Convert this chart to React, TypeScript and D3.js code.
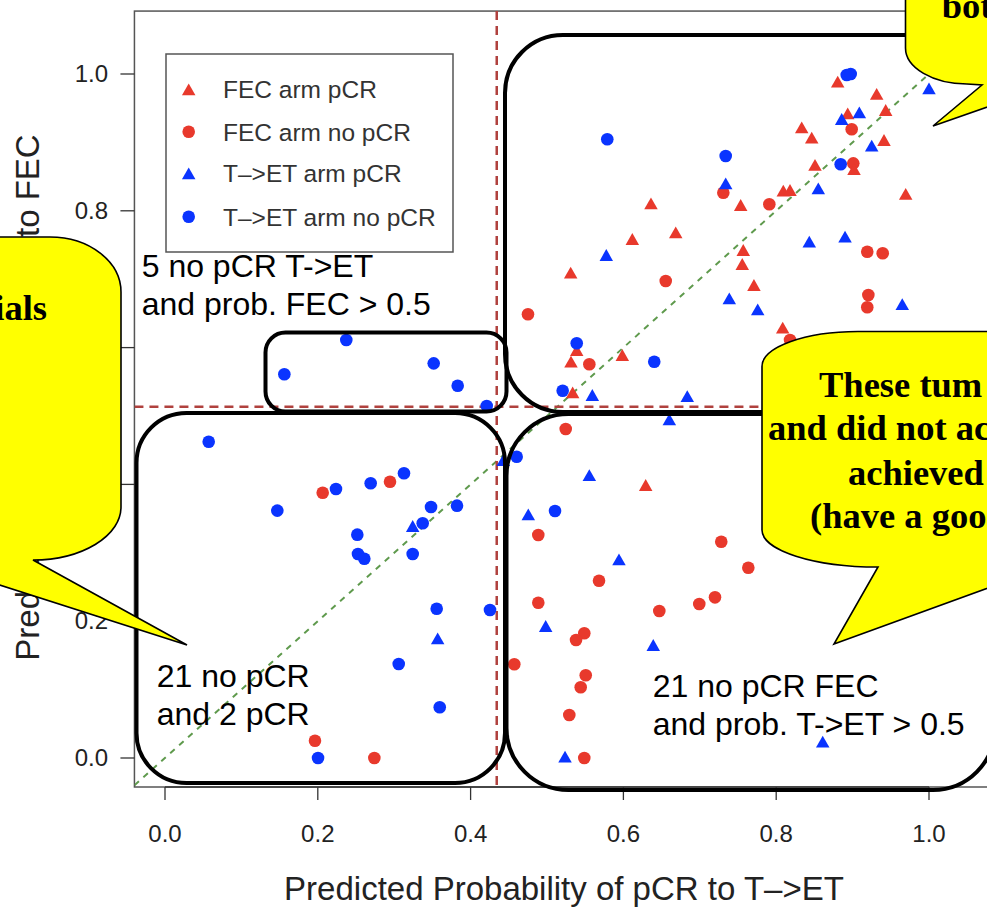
import React from "react";
import * as d3 from "d3";

// ---------- data (predicted probabilities) ----------
// [prob T->ET, prob FEC]
const fecArmPcr: [number, number][] = [
  [0.8805, 0.9888], [0.9315, 0.9708], [0.8936, 0.9425], [0.9433, 0.9474],
  [0.8334, 0.9221], [0.8465, 0.9069], [0.9411, 0.9035], [0.8508, 0.867],
  [0.9018, 0.8611], [0.8093, 0.8294], [0.8181, 0.8304], [0.9695, 0.8246],
  [0.7535, 0.8085], [0.6361, 0.811], [0.6685, 0.7686], [0.6117, 0.7588],
  [0.7569, 0.7427], [0.7556, 0.7222], [0.7709, 0.6915], [0.531, 0.7095],
  [0.8085, 0.6291], [0.5389, 0.5965], [0.5314, 0.5794], [0.5986, 0.5892],
  [0.5336, 0.5346], [0.6292, 0.3991],
];
const fecArmNoPcr: [number, number][] = [
  [0.8988, 0.9192], [0.9009, 0.8694], [0.7308, 0.8265], [0.791, 0.8095],
  [0.6554, 0.6974], [0.9192, 0.7402], [0.9394, 0.7379], [0.9206, 0.6769],
  [0.9192, 0.6589], [0.4751, 0.6487], [0.5554, 0.5756], [0.8181, 0.6111],
  [0.2064, 0.3879], [0.2945, 0.4039], [0.1963, 0.0253], [0.274, 0.0],
  [0.5245, 0.481], [0.4886, 0.326], [0.7281, 0.3162], [0.7635, 0.2782],
  [0.5681, 0.2592], [0.4886, 0.227], [0.647, 0.2149], [0.6993, 0.2251],
  [0.7199, 0.2349], [0.5488, 0.1823], [0.538, 0.1725], [0.4572, 0.137],
  [0.5507, 0.1209], [0.5441, 0.1034], [0.5292, 0.0629], [0.5488, 0.0],
];
const tetArmPcr: [number, number][] = [
  [1.0, 0.9791], [0.9088, 0.944], [0.8857, 0.9342], [0.925, 0.8952],
  [0.7339, 0.8402], [0.8551, 0.8329], [0.5776, 0.7354], [0.8433, 0.7548],
  [0.8901, 0.7621], [0.7386, 0.6721], [0.7758, 0.656], [0.965, 0.6637],
  [0.5593, 0.5307], [0.6836, 0.5292], [0.6601, 0.4952], [0.5554, 0.4137],
  [0.4755, 0.3563], [0.5942, 0.2905], [0.4983, 0.193], [0.6391, 0.1652],
  [0.5236, 0.0019], [0.8609, 0.0238], [0.3242, 0.3392], [0.3569, 0.175],
  [0.4428, 0.4357],
];
const tetArmNoPcr: [number, number][] = [
  [0.8923, 0.9985], [0.8975, 1.0], [0.5789, 0.9045], [0.7339, 0.8801],
  [0.8844, 0.868], [0.5389, 0.6063], [0.6404, 0.5794], [0.5205, 0.537],
  [0.1562, 0.561], [0.2373, 0.6111], [0.3517, 0.577], [0.3831, 0.5443],
  [0.4211, 0.5146], [0.0572, 0.4624], [0.2238, 0.3933], [0.2692, 0.4016],
  [0.3128, 0.4162], [0.147, 0.3616], [0.3482, 0.367], [0.3822, 0.3689],
  [0.3373, 0.3431], [0.2517, 0.3265], [0.2526, 0.2982], [0.2609, 0.2914],
  [0.3242, 0.2982], [0.3556, 0.2183], [0.4254, 0.2164], [0.3059, 0.1374],
  [0.3596, 0.0741], [0.2003, 0.0], [0.4603, 0.4405], [0.5105, 0.3611],
];

const xTicks = [0, 0.2, 0.4, 0.6, 0.8, 1.0];
const yTicks = [0, 0.2, 0.4, 0.6, 0.8, 1.0];
const thresholdTET = 0.4342;
const thresholdFEC = 0.5136;

const legendLabels = ["FEC arm pCR", "FEC arm no pCR", "T\u2013>ET arm pCR", "T\u2013>ET arm no pCR"];

const RED = "#e8392c";
const BLUE = "#0a34ff";

const W = 987;
const H = 907;
const SANS = "'Liberation Sans', Arial, Helvetica, sans-serif";
const SERIF = "'Liberation Serif', 'Times New Roman', serif";

const x = d3.scaleLinear().domain([0, 1]).range([165, 929]);
const y = d3.scaleLinear().domain([0, 1]).range([758, 74]);
const X_LIM: [number, number] = [-0.04, 1.1];
const Y_LIM: [number, number] = [-0.0424, 1.092];

function tri(cx: number, cy: number, w = 13.5, h = 11.8) {
  return `M${cx},${cy - h / 2}L${cx + w / 2},${cy + h / 2}L${cx - w / 2},${cy + h / 2}Z`;
}

function Points({ data, color, shape }: { data: [number, number][]; color: string; shape: "tri" | "circ" }) {
  return (
    <g>
      {data.map((d, i) =>
        shape === "tri" ? (
          <path key={i} d={tri(x(d[0]), y(d[1]))} fill={color} />
        ) : (
          <circle key={i} cx={x(d[0])} cy={y(d[1])} r={6.3} fill={color} />
        )
      )}
    </g>
  );
}

function roundRect(x0: number, y0: number, x1: number, y1: number, r: number) {
  return `M${x0 + r},${y0}H${x1 - r}A${r},${r} 0 0 1 ${x1},${y0 + r}V${y1 - r}A${r},${r} 0 0 1 ${x1 - r},${y1}H${x0 + r}A${r},${r} 0 0 1 ${x0},${y1 - r}V${y0 + r}A${r},${r} 0 0 1 ${x0 + r},${y0}Z`;
}

export default function App() {
  const pl = x(X_LIM[0]);
  const pr = x(X_LIM[1]);
  const pt = y(Y_LIM[1]);
  const pb = y(Y_LIM[0]);
  const legendSeries = [
    { color: RED, shape: "tri" },
    { color: RED, shape: "circ" },
    { color: BLUE, shape: "tri" },
    { color: BLUE, shape: "circ" },
  ];
  const legendRows = [89.3, 131.7, 173.3, 216.7];

  return (
    <svg
      width={W}
      height={H}
      viewBox={`0 0 ${W} ${H}`}
      style={{ position: "fixed", left: 0, top: 0, background: "#fff" }}
    >
      <defs>
        <clipPath id="plotclip">
          <rect x={pl} y={pt} width={pr - pl} height={pb - pt} />
        </clipPath>
      </defs>
      <rect x={0} y={0} width={W} height={H} fill="#fff" />

      {/* frame */}
      <rect x={pl} y={pt} width={pr - pl} height={pb - pt} fill="none" stroke="#555" strokeWidth={1.5} />

      {/* axes */}
      {xTicks.map((t) => (
        <g key={"xt" + t}>
          <line x1={x(t)} x2={x(t)} y1={pb} y2={pb + 13} stroke="#333" strokeWidth={1.3} />
          <text x={x(t)} y={842} textAnchor="middle" fontFamily={SANS} fontSize={24} fill="#222">
            {t.toFixed(1)}
          </text>
        </g>
      ))}
      <line x1={x(0)} x2={x(1)} y1={pb} y2={pb} stroke="#333" strokeWidth={1.3} />
      {yTicks.map((t) => (
        <g key={"yt" + t}>
          <line x1={pl - 14} x2={pl} y1={y(t)} y2={y(t)} stroke="#333" strokeWidth={1.3} />
          <text x={108} y={y(t) + 8} textAnchor="end" fontFamily={SANS} fontSize={24} fill="#222">
            {t.toFixed(1)}
          </text>
        </g>
      ))}
      <text x={564} y={900} textAnchor="middle" fontFamily={SANS} fontSize={33} fill="#222">
        Predicted Probability of pCR to T{"\u2013"}&gt;ET
      </text>
      <text
        transform={`translate(39,${397.5}) rotate(-90)`}
        textAnchor="middle"
        fontFamily={SANS}
        fontSize={33}
        fill="#222"
      >
        Predicted Probability of pCR to FEC
      </text>

      {/* reference lines */}
      <g clipPath="url(#plotclip)">
        <line
          x1={x(X_LIM[0])}
          y1={y(X_LIM[0])}
          x2={x(X_LIM[1])}
          y2={y(X_LIM[1])}
          stroke="#5f9a4d"
          strokeWidth={2}
          strokeDasharray="6,6"
        />
        <line
          x1={x(thresholdTET)}
          x2={x(thresholdTET)}
          y1={pt}
          y2={pb}
          stroke="#b0413e"
          strokeWidth={2.5}
          strokeDasharray="9,6"
        />
        <line
          x1={pl}
          x2={pr}
          y1={y(thresholdFEC)}
          y2={y(thresholdFEC)}
          stroke="#b0413e"
          strokeWidth={2.5}
          strokeDasharray="9,6"
        />
      </g>

      {/* points */}
      <Points data={fecArmNoPcr} color={RED} shape="circ" />
      <Points data={fecArmPcr} color={RED} shape="tri" />
      <Points data={tetArmPcr} color={BLUE} shape="tri" />
      <Points data={tetArmNoPcr} color={BLUE} shape="circ" />

      {/* legend */}
      <rect x={166} y={54} width={287} height={198} fill="#fff" stroke="#555" strokeWidth={1.5} />
      {legendLabels.map((lab, i) => (
        <g key={lab}>
          {legendSeries[i].shape === "tri" ? (
            <path d={tri(188.7, legendRows[i])} fill={legendSeries[i].color} />
          ) : (
            <circle cx={188.7} cy={legendRows[i]} r={6.3} fill={legendSeries[i].color} />
          )}
          <text x={223} y={legendRows[i] + 8.8} fontFamily={SANS} fontSize={24.5} fill="#333">
            {lab}
          </text>
        </g>
      ))}

      {/* annotations */}
      <g fontFamily={SANS} fontSize={32} fill="#000">
        <text x={141.7} y={277}>5 no pCR T-&gt;ET</text>
        <text x={141.7} y={315}>and prob. FEC &gt; 0.5</text>
        <text x={156.7} y={687}>21 no pCR</text>
        <text x={156.7} y={725}>and 2 pCR</text>
        <text x={652.7} y={697}>21 no pCR FEC</text>
        <text x={652.7} y={735}>and prob. T-&gt;ET &gt; 0.5</text>
      </g>

      {/* group boxes */}
      <g fill="none" stroke="#000" strokeWidth={4}>
        <path d={roundRect(505, 35, 1000, 412, 58)} />
        <path d={roundRect(265.5, 332.5, 506.5, 411.5, 20)} />
        <path d={roundRect(136.5, 413, 505, 783, 50)} />
        <path d={roundRect(506.5, 414, 995, 790, 62)} />
      </g>

      {/* callouts */}
      <g fill="#ffff00" stroke="#000" strokeWidth={1.6}>
        <path d="M1010,-10H905.5V48A62,36 0 0 0 967,84L982,85L933,126L1010,99Z" />
        <path d="M1010,331.5H858A96,35 0 0 0 762,366.5V530A116,37 0 0 0 878,567L834,644L1010,580Z" />
        <path d="M-10,237H50A71,55 0 0 1 121,292V507A88,53 0 0 1 33,560L187,645L-10,582Z" />
      </g>
      <g fontFamily={SERIF} fontWeight="bold" fontSize={36.5} fill="#000">
        <text x={941.7} y={18}>bot</text>
        <text x={47} y={320} textAnchor="end">ials</text>
        <text x={819} y={397}>These tum</text>
        <text x={768} y={440}>and did not ac</text>
        <text x={848} y={485}>achieved</text>
        <text x={810} y={528}>(have a goo</text>
      </g>
    </svg>
  );
}
